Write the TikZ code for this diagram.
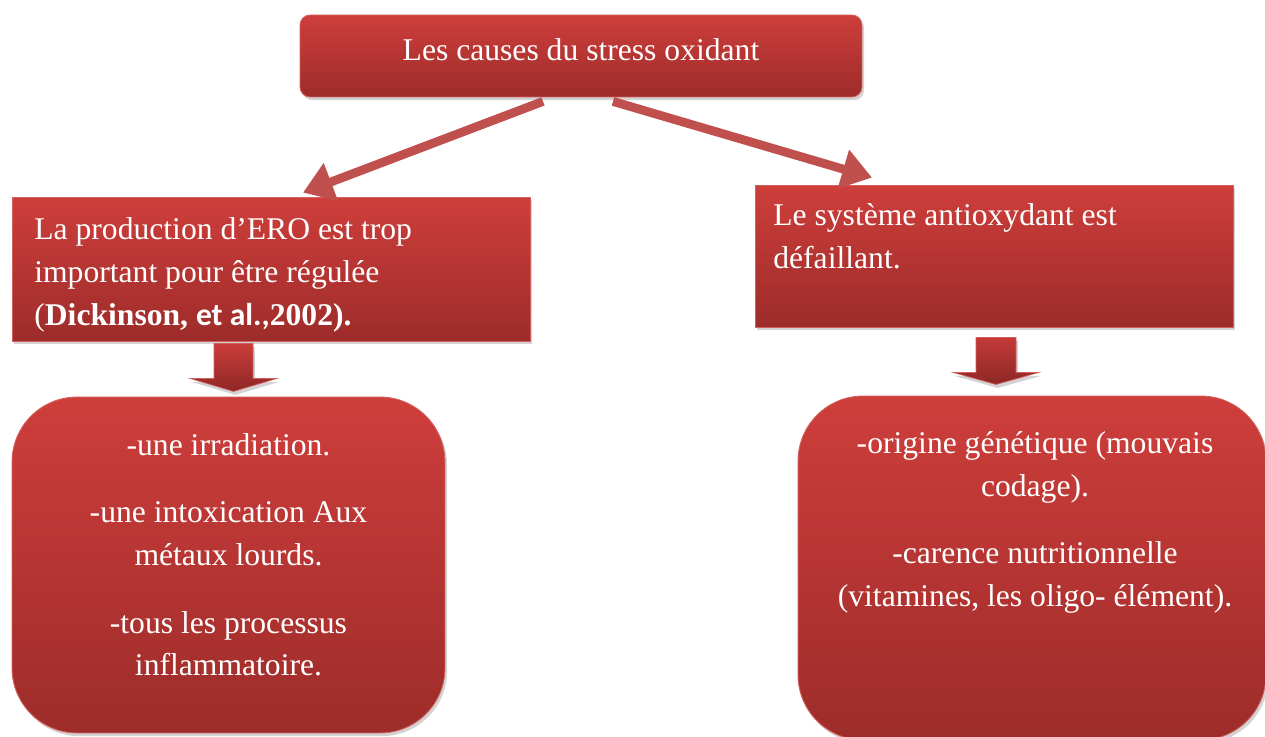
\documentclass[tikz,border=0pt]{standalone}
\usepackage{fontspec}
\setmainfont{Liberation Serif}
\newfontfamily\calibri{Carlito}
\usetikzlibrary{positioning,shadows,arrows.meta}

\definecolor{boxtop}{HTML}{CE3E3B}
\definecolor{boxbot}{HTML}{9D2C2A}
\definecolor{boxline}{HTML}{D2605D}
\definecolor{arrowred}{HTML}{C0504D}

\tikzset{
  causebox/.style={top color=boxtop, bottom color=boxbot, draw=boxline, line width=0.5pt,
    inner sep=0pt, drop shadow={opacity=0.35, shadow xshift=1.2pt, shadow yshift=-1.8pt}},
  txt/.style={text=white, inner sep=0pt, font=\fontsize{18}{24.4}\selectfont},
  thinarrow/.style={arrowred, line width=5pt, -{Triangle[length=17pt,width=22pt]},
    drop shadow={opacity=0.25, shadow xshift=1pt, shadow yshift=-1.5pt}},
  downarrow/.style={top color=boxtop, bottom color=boxbot!90!black, draw=boxline, line width=0.4pt,
    drop shadow={opacity=0.35, shadow xshift=1pt, shadow yshift=-2pt}}
}

\begin{document}
\begin{tikzpicture}[x=0.02cm, y=-0.02cm]
    \useasboundingbox (0,0) rectangle (1265,737);

    % top box
    \node[causebox, txt, rounded corners=0.2cm, minimum width=11.24cm, minimum height=1.64cm,
          text height=12.3pt, text depth=7.7pt] (top) at (581,56) {Les causes du stress oxidant};

    % second row
    \node[causebox, minimum width=10.36cm, minimum height=2.88cm] (prod) at (271,269) {};
    \node[causebox, minimum width=9.56cm, minimum height=2.84cm] (anti) at (994,256) {};

    \node[txt, anchor=north west, align=left] (prodtxt) at (34,217)
        {La production d’ERO est trop\\
         important pour être régulée\\
         (\textbf{Dickinson, {\calibri et al.,}2002).}};
    \node[txt, anchor=north west, align=left] (antitxt) at (773,203)
        {Le système antioxydant est\\
         défaillant.};

    % bottom row
    \node[causebox, rounded corners=1.3cm, minimum width=8.66cm, minimum height=6.72cm] (lowl) at (228.5,565) {};
    \node[causebox, rounded corners=1.3cm, minimum width=9.36cm, minimum height=6.88cm] (lowr) at (1032,568) {};

    \node[txt, anchor=north, align=center] (lowltxt) at (228.5,433)
        {-une irradiation.\\[14pt]
         -une intoxication Aux\\
         métaux lourds.\\[14pt]
         -tous les processus\\
         inflammatoire.};
    \node[txt, anchor=north, align=center] (lowrtxt) at (1035,431)
        {-origine génétique (mouvais\\
         codage).\\[14pt]
         -carence nutritionnelle\\
         (vitamines, les oligo- élément).};

    % arrows
    \draw[thinarrow] ([xshift=-0.76cm,yshift=-0.08cm]top.south) -- ([xshift=0.64cm,yshift=0.08cm]prod.north);
    \draw[thinarrow] ([xshift=0.64cm,yshift=-0.08cm]top.south) -- ([xshift=-2.44cm,yshift=0.14cm]anti.north);

    \path[downarrow] (prod.south) ++(-57,2) -- ++(39,0) -- ++(0,35) -- ++(24,0) -- ++(-43.5,13)
        -- ++(-43.5,-13) -- ++(24,0) -- cycle;
    \path[downarrow] (anti.south) ++(-18,10) -- ++(40,0) -- ++(0,35) -- ++(23,0) -- ++(-43,12)
        -- ++(-43,-12) -- ++(23,0) -- cycle;

\end{tikzpicture}
\end{document}
